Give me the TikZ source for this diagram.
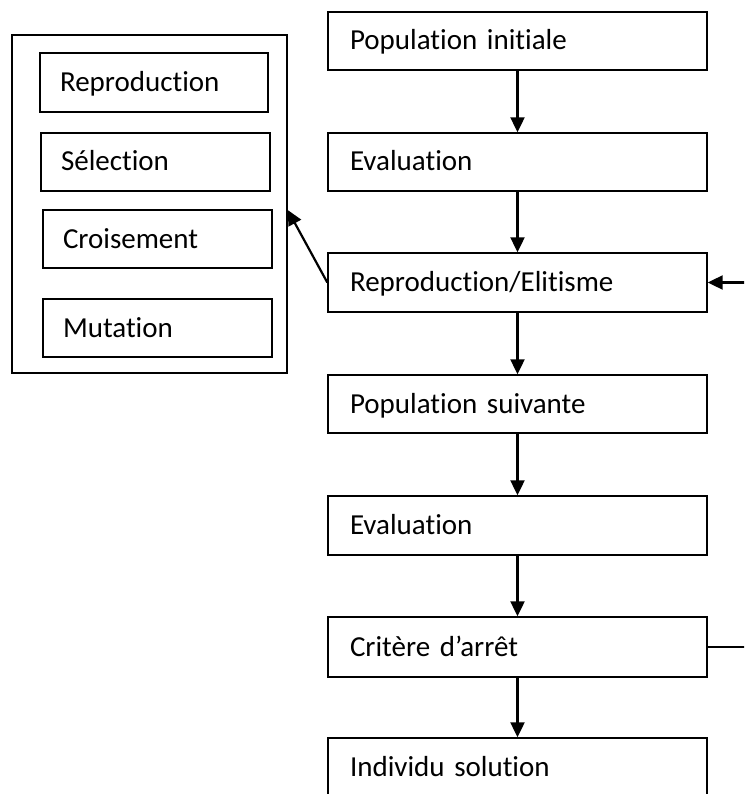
\documentclass[tikz,border=0pt]{standalone}
\usepackage{fontspec}
\setmainfont{Carlito}[Ligatures=NoCommon]
\usetikzlibrary{arrows.meta}
\begin{document}
\begin{tikzpicture}[x=1pt,y=-1pt,
  boxfont/.style={font=\fontsize{29}{34}\selectfont},
  mainbox/.style={draw, line width=1.4pt, boxfont, align=left,
    text width=335pt, inner xsep=22pt, inner ysep=0pt,
    text height=21pt, text depth=3pt},
  opbox/.style={draw, line width=1.4pt, boxfont, align=left,
    text width=189pt, inner xsep=20pt, inner ysep=0pt,
    text height=21pt, text depth=3pt},
  flow/.style={line width=2.2pt, -{Triangle[length=15pt,width=14pt]}},
  plainline/.style={line width=2.2pt}]
\useasboundingbox (0,0) rectangle (744,794);
\clip (0,0) rectangle (744,794);

% main chain of the genetic algorithm
\node[mainbox, minimum height=58pt] (init)  at (517.5,41)    {Population initiale};
\node[mainbox, minimum height=58pt] (eval1) at (517.5,162)   {Evaluation};
\node[mainbox, minimum height=59pt] (repro) at (517.5,282.5) {Reproduction/Elitisme};
\node[mainbox, minimum height=58pt] (next)  at (517.5,404)   {Population suivante};
\node[mainbox, minimum height=59pt] (eval2) at (517.5,525.5) {Evaluation};
\node[mainbox, minimum height=60pt] (stop)  at (517.5,647)   {Critère d’arrêt};
\node[mainbox, minimum height=58pt] (sol)   at (517.5,767)   {Individu solution};

% genetic operators
\node[draw, line width=1.4pt, minimum width=275pt, minimum height=338pt] (ops) at (149.5,204) {};
\node[opbox, text width=188pt, minimum height=59pt] (oprep) at (154,82.5)  {Reproduction};
\node[opbox, text width=189pt, minimum height=58pt] (opsel) at (155.5,162) {Sélection};
\node[opbox, text width=189pt, minimum height=58pt] (opcro) at (157.5,239) {Croisement};
\node[opbox, text width=189pt, minimum height=58pt] (opmut) at (157.5,328) {Mutation};

% connectors
\draw[flow] (init) -- (eval1);
\draw[flow] (eval1) -- (repro);
\draw[flow] (repro) -- (next);
\draw[flow] (next) -- (eval2);
\draw[flow] (eval2) -- (stop);
\draw[flow] (stop) -- (sol);
\draw[flow] (repro.west) -- ([yshift=-6pt]ops.east);

\coordinate (loopin)  at (746,282.5);
\coordinate (loopout) at (746,647);
\draw[flow] (loopin) -- (repro.east);
\draw[plainline] (stop.east) -- (loopout);
\end{tikzpicture}
\end{document}
